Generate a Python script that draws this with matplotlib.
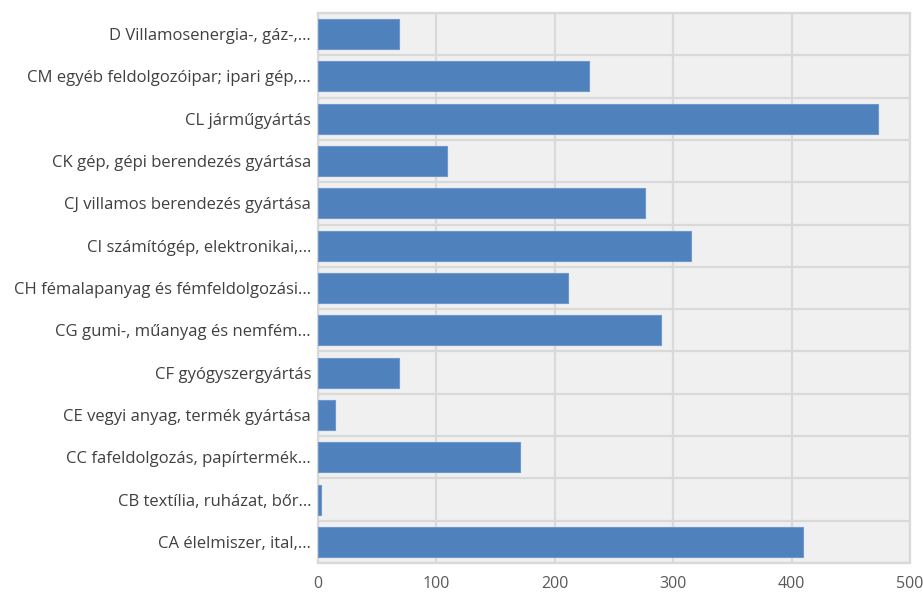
import matplotlib
matplotlib.use('Agg')
import matplotlib.pyplot as plt
import numpy as np

categories = [
    "D Villamosenergia-, gáz-,…",
    "CM egyéb feldolgozóipar; ipari gép,…",
    "CL járműgyártás",
    "CK gép, gépi berendezés gyártása",
    "CJ villamos berendezés gyártása",
    "CI számítógép, elektronikai,…",
    "CH fémalapanyag és fémfeldolgozási…",
    "CG gumi-, műanyag és nemfém…",
    "CF gyógyszergyártás",
    "CE vegyi anyag, termék gyártása",
    "CC fafeldolgozás, papírtermék…",
    "CB textília, ruházat, bőr…",
    "CA élelmiszer, ital,…",
]
values = [68, 229, 473, 109, 276, 315, 211, 290, 68, 14, 171, 2.5, 410]
xticks = [0, 100, 200, 300, 400, 500]

plt.rcParams['font.family'] = ['Open Sans', 'DejaVu Sans']

fig = plt.figure(figsize=(9.23, 5.95), dpi=100)
ax = fig.add_axes([318 / 923, 1 - 563 / 595, (910 - 318) / 923, (563 - 13) / 595])
ax.set_facecolor('#f0f0f0')

n = len(categories)
ypos = np.arange(n)[::-1]
ax.barh(ypos, values, height=0.71, color='#4f81bd', edgecolor='#6f97cc', linewidth=0.8, zorder=3)

ax.set_xlim(0, 500)
ax.set_ylim(-0.5, n - 0.5)
ax.set_xticks(xticks)
ax.set_xticklabels([str(t) for t in xticks], fontsize=11.5, color='#595959')
ax.set_yticks(ypos)
ax.set_yticklabels(categories, fontsize=12, color='#404040')
ax.set_yticks(np.arange(n + 1) - 0.5, minor=True)
ax.tick_params(axis='both', which='both', length=0)
ax.tick_params(axis='x', pad=9)
ax.tick_params(axis='y', pad=5)
ax.grid(axis='x', color='#d9d9d9', linewidth=1.6, zorder=1)
ax.grid(axis='y', which='minor', color='#d9d9d9', linewidth=1.6, zorder=1)
ax.grid(axis='y', which='major', visible=False)
for s in ax.spines.values():
    s.set_color('#d9d9d9')
    s.set_linewidth(1.6)

fig.savefig('out.png', dpi=100, facecolor='white')
